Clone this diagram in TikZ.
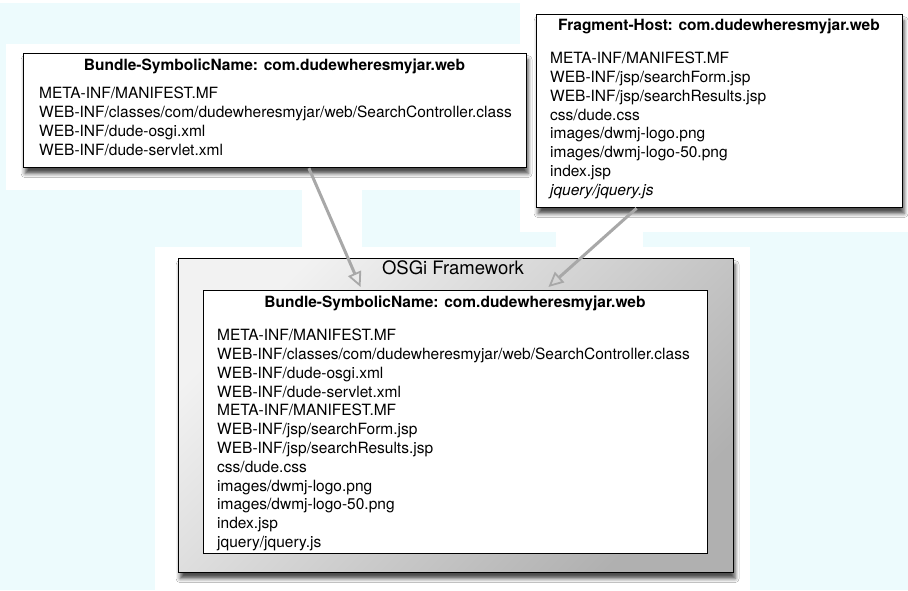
\documentclass[tikz,border=0pt]{standalone}
\usepackage{fontspec}
\setmainfont{TeX Gyre Heros}
\usetikzlibrary{arrows.meta,shadows.blur,calc}

\definecolor{bgcyan}{RGB}{237,251,253}
\definecolor{arrowgray}{RGB}{168,168,168}
\definecolor{framelight}{RGB}{242,242,242}
\definecolor{framedark}{RGB}{176,176,176}

\tikzset{
  jarbox/.style={draw=black, line width=1.2pt, fill=white, anchor=north west, inner sep=0pt,
    blur shadow={shadow xshift=1.5pt, shadow yshift=-6pt, shadow blur radius=4pt, shadow opacity=70}},
  headtext/.style={font=\fontsize{15.5}{18.8}\selectfont\bfseries, inner sep=0pt},
  listtext/.style={font=\fontsize{15.5}{18.8}\selectfont, align=left, inner sep=0pt, anchor=north west},
  mergearrow/.style={draw=arrowgray, line width=3pt,
    -{Triangle[open, line width=1.8pt, length=15pt, width=14pt]}},
}

\begin{document}
\begin{tikzpicture}[x=1pt, y=-1pt]
	\useasboundingbox (0,0) rectangle (908,590);

	% background with the white halos
	\fill[bgcyan] (0,0) rectangle (908,590);
	\fill[white] (0,0) rectangle (908,3);
	\fill[white] (6,44) rectangle (536,190);
	\fill[white] (520,0) rectangle (908,232);
	\fill[white] (302,190) rectangle (362,250);
	\fill[white] (556,232) rectangle (643,250);
	\fill[white] (155,247) rectangle (750,590);

	% bundle
	\node[jarbox, minimum width=503pt, minimum height=114pt] (lbox) at (23,53) {};
	\node[headtext] (ltitle) at (274.5,66.4) {Bundle-SymbolicName: com.dudewheresmyjar.web};
	\node[listtext] (llist) at (39,87) {META-INF/MANIFEST.MF\\
		WEB-INF/classes/com/dudewheresmyjar/web/SearchController.class\\
		WEB-INF/dude-osgi.xml\\
		WEB-INF/dude-servlet.xml};

	% fragment
	\node[jarbox, minimum width=366pt, minimum height=193pt] (rbox) at (536,14) {};
	\node[headtext] (rtitle) at (719,26.4) {Fragment-Host: com.dudewheresmyjar.web};
	\node[listtext] (rlist) at (550,52) {META-INF/MANIFEST.MF\\
		WEB-INF/jsp/searchForm.jsp\\
		WEB-INF/jsp/searchResults.jsp\\
		css/dude.css\\
		images/dwmj-logo.png\\
		images/dwmj-logo-50.png\\
		index.jsp\\
		\textit{jquery/jquery.js}};

	% framework
	\node[jarbox, minimum width=555pt, minimum height=314pt, top color=framelight,
		bottom color=framedark, shading angle=45] (osgi) at (178,258) {};
	\node[font=\fontsize{18.5}{22}\selectfont, inner sep=0pt] (osgititle) at (453,268) {OSGi Framework};
	\node[draw=black, line width=1pt, fill=white, anchor=north west, inner sep=0pt,
		minimum width=504pt, minimum height=263pt] (inbox) at (203,290) {};
	\node[headtext] (intitle) at (455,303.4) {Bundle-SymbolicName: com.dudewheresmyjar.web};
	\node[listtext] (inlist) at (217,329) {META-INF/MANIFEST.MF\\
		WEB-INF/classes/com/dudewheresmyjar/web/SearchController.class\\
		WEB-INF/dude-osgi.xml\\
		WEB-INF/dude-servlet.xml\\
		META-INF/MANIFEST.MF\\
		WEB-INF/jsp/searchForm.jsp\\
		WEB-INF/jsp/searchResults.jsp\\
		css/dude.css\\
		images/dwmj-logo.png\\
		images/dwmj-logo-50.png\\
		index.jsp\\
		jquery/jquery.js};

	% arrows into the framework
	\coordinate (lfoot) at ($(lbox.south west)!0.567!(lbox.south east)$);
	\coordinate (rfoot) at ($(rbox.south west)!0.274!(rbox.south east)$);
	\coordinate (ltip) at ($(inbox.north west)!0.312!(inbox.north east)+(0,-3)$);
	\coordinate (rtip) at ($(inbox.north west)!0.684!(inbox.north east)+(0,-3)$);

	\draw[mergearrow] (lfoot) -- (ltip);
	\draw[mergearrow] (rfoot) -- (rtip);
\end{tikzpicture}
\end{document}
